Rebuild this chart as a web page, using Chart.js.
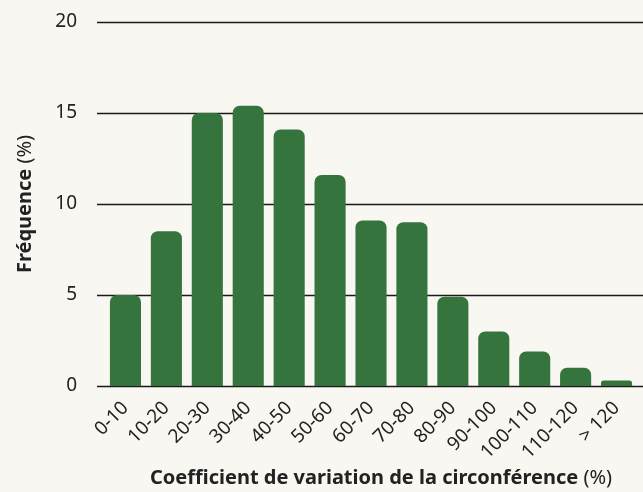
<!DOCTYPE html>
<html>
<head>
<meta charset="utf-8">
<script src="https://cdn.jsdelivr.net/npm/chart.js@4/dist/chart.umd.min.js"></script>
<style>
  html, body { margin: 0; padding: 0; background: #f8f7f2; }
  #wrap { width: 643px; height: 492px; position: relative; }
</style>
</head>
<body>
<div id="wrap"><canvas id="myChart" width="643" height="492"></canvas></div>
<script>
// Classes du coefficient de variation
const categories = ['0-10', '10-20', '20-30', '30-40', '40-50', '50-60', '60-70',
  '70-80', '80-90', '90-100', '100-110', '110-120', '> 120'];
// Fréquence (%)
const frequences = [5.0, 8.5, 15.0, 15.4, 14.1, 11.6, 9.1, 9.0, 4.9, 3.0, 1.9, 1.0, 0.3];
const yTicks = [0, 5, 10, 15, 20];

const fontFamily = '"Noto Sans", "Open Sans", sans-serif';
const textColor = '#222';

// lignes horizontales qui dépassent un peu à gauche et à droite
const gridPlugin = {
  id: 'grid',
  beforeDatasetsDraw(chart) {
    const ctx = chart.ctx;
    const y = chart.scales.y;
    ctx.save();
    ctx.strokeStyle = '#1a1a1a';
    ctx.lineWidth = 1.4;
    yTicks.forEach(v => {
      const py = Math.round(y.getPixelForValue(v)) + 0.5;
      ctx.beginPath();
      ctx.moveTo(97, py);
      ctx.lineTo(chart.width, py);
      ctx.stroke();
    });
    ctx.restore();
  }
};

// titres des axes : partie en gras + "(%)" normal
function drawMixed(ctx, parts, x, y) {
  let total = 0;
  parts.forEach(p => { ctx.font = p.font; p.w = ctx.measureText(p.text).width; total += p.w; });
  let cx = x - total / 2;
  parts.forEach(p => {
    ctx.font = p.font;
    ctx.fillText(p.text, cx, y);
    cx += p.w;
  });
}

const titlePlugin = {
  id: 'titles',
  afterDraw(chart) {
    const ctx = chart.ctx;
    const a = chart.chartArea;
    ctx.save();
    ctx.fillStyle = textColor;
    ctx.textBaseline = 'middle';
    ctx.textAlign = 'left';
    drawMixed(ctx, [
      { text: 'Coefficient de variation de la circonférence ', font: 'bold 20px ' + fontFamily },
      { text: '(%)', font: '20px ' + fontFamily }
    ], 381, 478);
    ctx.translate(25, (a.top + a.bottom) / 2);
    ctx.rotate(-Math.PI / 2);
    drawMixed(ctx, [
      { text: 'Fréquence ', font: 'bold 20px ' + fontFamily },
      { text: '(%)', font: '20px ' + fontFamily }
    ], 0, 0);
    ctx.restore();
  }
};

const ctx = document.getElementById('myChart').getContext('2d');
const myChart = new Chart(ctx, {
  type: 'bar',
  data: {
    labels: categories,
    datasets: [{
      data: frequences,
      backgroundColor: '#36743d',
      borderWidth: 0,
      borderRadius: { topLeft: 7, topRight: 7, bottomLeft: 0, bottomRight: 0 },
      borderSkipped: 'start',
      barPercentage: 0.76,
      categoryPercentage: 1
    }]
  },
  options: {
    responsive: false,
    animation: false,
    layout: { padding: { top: 22, right: 6, left: 0, bottom: 0 } },
    plugins: {
      legend: { display: false },
      tooltip: { enabled: false }
    },
    scales: {
      x: {
        grid: { display: false },
        border: { display: false },
        ticks: {
          color: textColor,
          font: { family: fontFamily, size: 19 },
          minRotation: 45,
          maxRotation: 45,
          autoSkip: false,
          padding: 3
        },
        afterFit(scale) {
          scale.height = 106;
          scale.paddingLeft = 0;
          scale.paddingRight = 0;
        }
      },
      y: {
        min: 0,
        max: 20,
        grid: { display: false },
        border: { display: false },
        afterBuildTicks(scale) { scale.ticks = yTicks.map(v => ({ value: v })); },
        ticks: {
          color: textColor,
          font: { family: fontFamily, size: 19 },
          padding: 20
        },
        afterFit(scale) {
          scale.width = 105;
          scale.paddingTop = 0;
          scale.paddingBottom = 0;
        }
      }
    }
  },
  plugins: [gridPlugin, titlePlugin]
});
</script>
</body>
</html>
